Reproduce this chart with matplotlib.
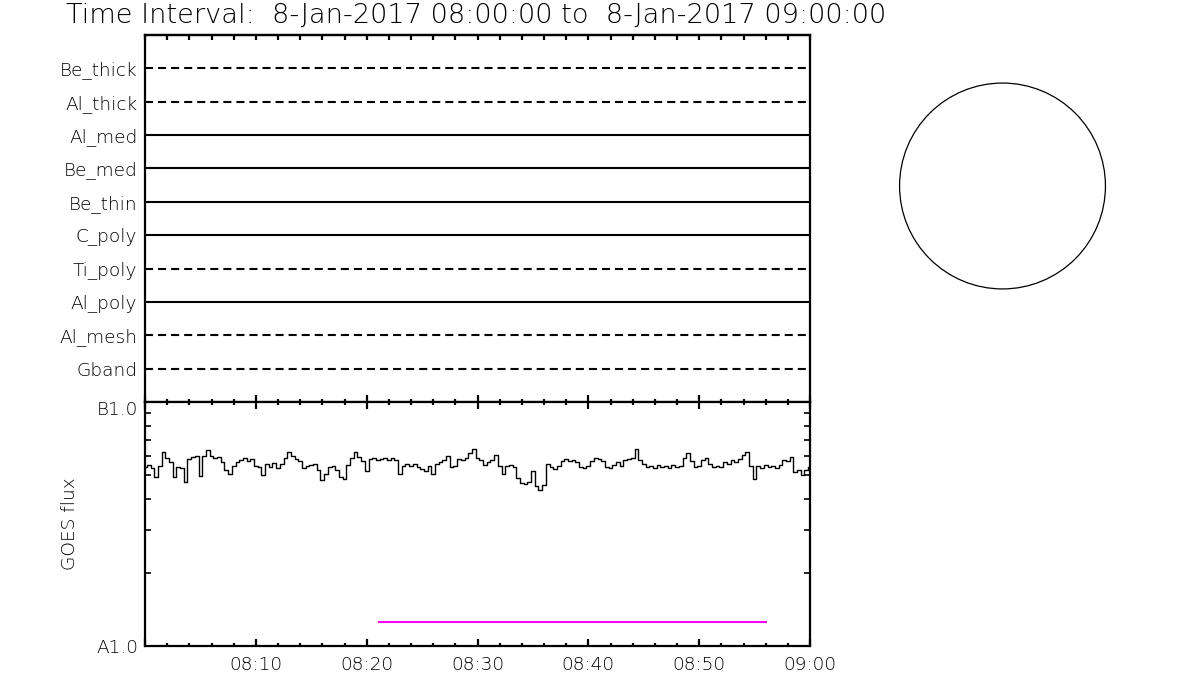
import numpy as np
import matplotlib
matplotlib.use("Agg")
import matplotlib.pyplot as plt
from matplotlib.patches import Circle
from matplotlib.ticker import FixedLocator, NullFormatter
import matplotlib.transforms as mtransforms

plt.rcParams['font.family'] = ['DejaVu Sans']
plt.rcParams['font.weight'] = 'light'
plt.rcParams['axes.labelweight'] = 'light'
plt.rcParams['lines.scale_dashes'] = False

# ---------------- data ----------------
title = "Time Interval:  8-Jan-2017 08:00:00 to  8-Jan-2017 09:00:00"

# filters, bottom to top
filters = ['Gband', 'Al_mesh', 'Al_poly', 'Ti_poly', 'C_poly',
           'Be_thin', 'Be_med', 'Al_med', 'Al_thick', 'Be_thick']
filter_dashed = [True, True, False, True, False,
                 False, False, False, True, True]

# time axis (minutes after 08:00)
major_minutes = [0, 10, 20, 30, 40, 50, 60]
major_labels = ['', '08:10', '08:20', '08:30', '08:40', '08:50', '09:00']
minor_step_min = 2

# GOES flux, sampled every 20 s starting 08:00:00, in units of 1e-8 W/m^2
sample_step_s = 20
goes_flux_e8 = [
    5.41, 5.52, 5.36, 4.93, 5.47, 6.24, 5.90, 5.68, 4.93, 5.41,
    5.36, 4.70, 5.84, 5.95, 6.01, 4.97, 6.01, 6.36, 6.01, 5.90,
    5.95, 5.68, 5.26, 5.07, 5.47, 5.68, 5.79, 5.90, 5.73, 5.84,
    5.47, 5.41, 5.02, 5.57, 5.41, 5.62, 5.36, 5.57, 5.90, 6.24,
    6.01, 5.84, 5.73, 5.36, 5.47, 5.52, 5.57, 5.26, 4.79, 5.07,
    5.41, 5.47, 5.26, 4.93, 4.83, 5.52, 5.90, 6.24, 5.95, 5.73,
    5.21, 5.84, 5.90, 5.79, 5.84, 5.90, 5.79, 5.90, 5.79, 5.07,
    5.47, 5.57, 5.47, 5.57, 5.41, 5.31, 5.21, 5.47, 5.07, 5.57,
    5.68, 5.79, 6.01, 5.41, 5.47, 5.84, 5.79, 5.90, 6.18, 6.42,
    5.90, 5.79, 5.52, 5.68, 5.79, 6.07, 5.47, 5.07, 5.47, 5.52,
    5.41, 4.88, 4.66, 4.61, 4.70, 5.21, 4.52, 4.36, 4.57, 5.57,
    5.41, 5.31, 5.47, 5.73, 5.84, 5.73, 5.79, 5.68, 5.41, 5.36,
    5.47, 5.73, 5.90, 5.84, 5.73, 5.41, 5.36, 5.52, 5.68, 5.47,
    5.79, 5.84, 5.90, 6.42, 5.79, 5.57, 5.41, 5.47, 5.36, 5.52,
    5.41, 5.47, 5.36, 5.52, 5.41, 5.47, 5.90, 6.18, 5.73, 5.41,
    5.47, 5.79, 5.90, 5.57, 5.41, 5.47, 5.41, 5.68, 5.57, 5.79,
    5.68, 5.84, 6.07, 6.24, 5.47, 4.83, 5.47, 5.36, 5.52, 5.41,
    5.47, 5.36, 5.52, 5.79, 5.73, 5.95, 5.16, 5.26, 5.02, 5.26,
    5.41,
]

# observation interval bar (magenta)
obs_start_min = 21.0
obs_end_min = 56.1
obs_level = 1.25e-8

flux_ticks = [1e-8, 1e-7]
flux_labels = ['A1.0', 'B1.0']

# ---------------- figure ----------------
W, H = 1200, 700
fig = plt.figure(figsize=(12, 7), dpi=100)

def px_axes(x0, y0, x1, y1):
    return fig.add_axes([x0 / W, 1 - y1 / H, (x1 - x0) / W, (y1 - y0) / H])

FS = 13.3
SP_LW = 1.6

ax1 = px_axes(145, 35, 810, 402)
ax2 = px_axes(145, 402, 810, 646)

# ---- top panel ----
ax1.set_xlim(0, 60)
ax1.set_ylim(0, len(filters) + 1)
for k, (name, dashed) in enumerate(zip(filters, filter_dashed), start=1):
    ax1.axhline(k, color='black', lw=1.5,
                linestyle=(0, (5.8, 3.6)) if dashed else '-')
ax1.set_yticks(range(1, len(filters) + 1))
ax1.set_yticklabels(filters, fontsize=FS)
ax1.tick_params(axis='y', length=0, pad=5.5)
ax1.xaxis.set_major_locator(FixedLocator(major_minutes))
ax1.xaxis.set_minor_locator(FixedLocator(np.arange(0, 61, minor_step_min)))
ax1.xaxis.set_major_formatter(NullFormatter())
ax1.tick_params(axis='x', which='both', direction='in', top=False, bottom=True,
                labelbottom=False, width=SP_LW)
ax1.tick_params(axis='x', which='major', length=5)
ax1.tick_params(axis='x', which='minor', length=2.5)
sec = ax1.secondary_xaxis('top')
sec.xaxis.set_major_locator(FixedLocator(np.arange(0, 61, minor_step_min)))
sec.xaxis.set_major_formatter(NullFormatter())
sec.tick_params(direction='in', length=3.5, width=SP_LW)
sec.spines['top'].set_linewidth(SP_LW)
for s in ax1.spines.values():
    s.set_linewidth(SP_LW)

# ---- bottom panel ----
t_min = np.arange(len(goes_flux_e8)) * sample_step_s / 60.0
flux = np.array(goes_flux_e8) * 1e-8
ax2.plot(t_min, flux, color='black', lw=1.0, drawstyle='steps-mid')
ax2.hlines(obs_level, obs_start_min, obs_end_min, color='#ff00ff', lw=1.5)
ax2.set_yscale('log')
ax2.set_ylim(1e-8, 1e-7)
ax2.set_xlim(0, 60)
ax2.yaxis.set_major_locator(FixedLocator(flux_ticks))
ax2.set_yticklabels(flux_labels, fontsize=FS)
ax2.yaxis.set_minor_locator(FixedLocator([m * 1e-8 for m in range(2, 10)]))
ax2.yaxis.set_minor_formatter(NullFormatter())
ax2.tick_params(axis='y', which='both', direction='in', left=True, right=True,
                width=1.2, pad=5)
ax2.tick_params(axis='y', which='minor', length=4)
ax2.tick_params(axis='y', which='major', length=0)
# nudge the top label slightly downward as in the reference
for lab in ax2.get_yticklabels():
    if lab.get_text() == 'B1.0':
        lab.set_transform(lab.get_transform() +
                          mtransforms.ScaledTranslation(0, -6 / 100, fig.dpi_scale_trans))
ax2.set_ylabel('GOES flux', fontsize=FS, fontweight='light', labelpad=12)
ax2.xaxis.set_major_locator(FixedLocator(major_minutes))
ax2.set_xticklabels(major_labels, fontsize=FS)
ax2.xaxis.set_minor_locator(FixedLocator(np.arange(0, 61, minor_step_min)))
ax2.tick_params(axis='x', which='both', direction='in', top=True, bottom=True,
                width=SP_LW, pad=7)
ax2.tick_params(axis='x', which='major', length=5)
ax2.tick_params(axis='x', which='minor', length=2.5)
for s in ax2.spines.values():
    s.set_linewidth(SP_LW)

# ---- solar disk outline ----
axc = px_axes(897, 81, 1108, 291)
axc.set_xlim(-1.02, 1.02)
axc.set_ylim(-1.02, 1.02)
axc.add_patch(Circle((0, 0), 1.0, fill=False, lw=0.9, color='black'))
axc.set_aspect('equal')
axc.axis('off')

# ---- title ----
fig.text(476 / W, 1 - 15 / H, title, ha='center', va='center', fontsize=19.6)

fig.savefig('out.png', dpi=100, facecolor='white')
